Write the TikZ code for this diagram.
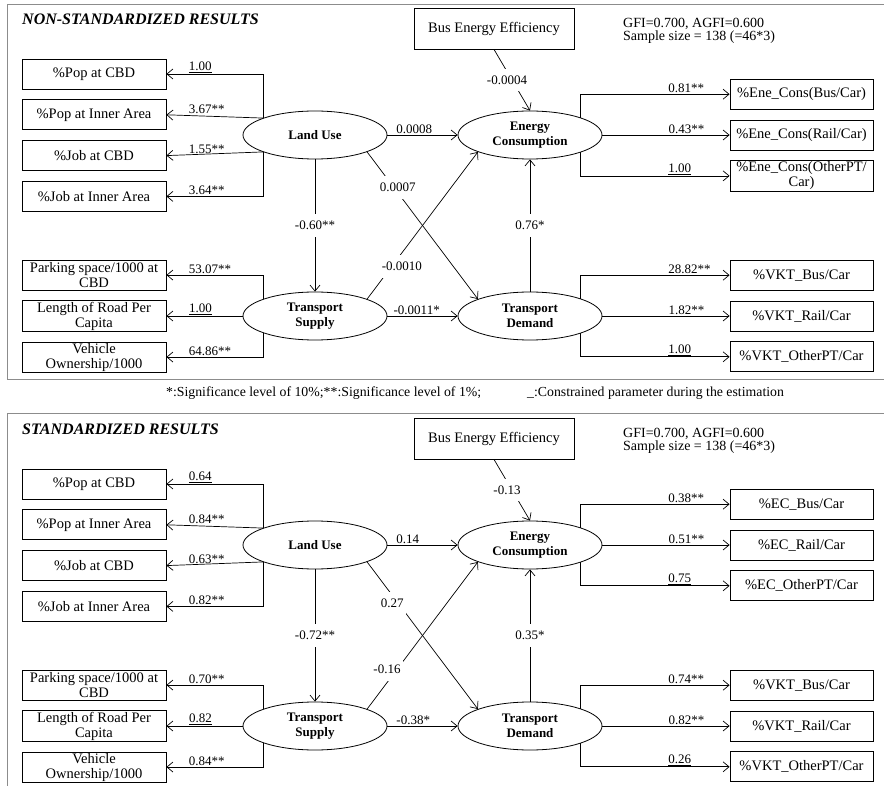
\documentclass[tikz,border=0pt]{standalone}
\usepackage{fontspec}
\setmainfont{Liberation Serif}
\usepackage{tikz}
\usetikzlibrary{arrows.meta,positioning,shapes.geometric}
\definecolor{ink}{HTML}{000000}
\definecolor{rule}{HTML}{8C8C8C}
\tikzset{
  obs/.style={draw=ink, rectangle, minimum width=144pt, minimum height=30pt, inner sep=1pt,
              font=\fontsize{14.5}{15}\selectfont, align=center, text=ink, line width=0.8pt},
  lat/.style={draw=ink, ellipse, minimum width=144pt, minimum height=48pt, inner sep=0pt,
              font=\fontsize{13}{15}\selectfont\bfseries, align=center, text=ink, line width=0.8pt},
  coef/.style={font=\fontsize{13}{14}\selectfont, inner sep=1pt, text=ink},
  gap/.style={coef, fill=white, inner xsep=2pt, inner ysep=7pt},
  ttl/.style={font=\fontsize{16}{18}\selectfont\bfseries\itshape, inner sep=0pt, text=ink},
  gof/.style={font=\fontsize{14}{13.5}\selectfont, align=left, inner sep=0pt, text=ink},
  note/.style={font=\fontsize{13.8}{15}\selectfont, inner sep=0pt, text=ink},
  frm/.style={draw=rule, line width=0.9pt},
  arr/.style={-{Straight Barb[length=6pt,width=10pt]}, line width=0.7pt, draw=ink},
}

\begin{document}
\begin{tikzpicture}[x=1pt, y=-1pt]
  \useasboundingbox (0,0) rectangle (884,786);
  % non-standardized
  \draw[frm] (884,4) -- (7,4) -- (7,379) -- (884,379);
  \node[ttl, anchor=west] (nTitle) at (22,19) {NON-STANDARDIZED RESULTS};
  \node[obs, minimum width=160pt, minimum height=41pt] (nBEE) at (494,28.5) {Bus Energy Efficiency};
  \node[gof, anchor=west] (nGof) at (623,31) {GFI=0.700, AGFI=0.600\\Sample size = 138 (=46*3)};
  \node[lat] (nLU) at (315,135) {Land Use};
  \node[lat] (nTS) at (315,316) {Transport\\Supply};
  \node[lat] (nEC) at (530,135) {Energy\\Consumption};
  \node[lat] (nTD) at (530,316) {Transport\\Demand};
  \node[obs] (nPopCBD) at (94,74) {\%Pop at CBD};
  \node[obs, below=10pt of nPopCBD] (nPopInn) {\%Pop at Inner Area};
  \node[obs, below=10pt of nPopInn] (nJobCBD) {\%Job at CBD};
  \node[obs, below=10pt of nJobCBD] (nJobInn) {\%Job at Inner Area};
  \node[obs] (nRoad) at (94,316) {Length of Road Per\\Capita};
  \node[obs, above=10pt of nRoad] (nPark) {Parking space/1000 at\\CBD};
  \node[obs, below=10pt of nRoad] (nVeh) {Vehicle\\Ownership/1000};
  \node[obs, minimum width=143pt] (nEcRail) at (801.5,135) {\%Ene\_Cons(Rail/Car)};
  \node[obs, minimum width=143pt, above=10pt of nEcRail] (nEcBus) {\%Ene\_Cons(Bus/Car)};
  \node[obs, minimum width=143pt, below=10pt of nEcRail] (nEcOth) {\%Ene\_Cons(OtherPT/\\Car)};
  \node[obs, minimum width=143pt] (nVkRail) at (801.5,316) {\%VKT\_Rail/Car};
  \node[obs, minimum width=143pt, above=10pt of nVkRail] (nVkBus) {\%VKT\_Bus/Car};
  \node[obs, minimum width=143pt, below=10pt of nVkRail] (nVkOth) {\%VKT\_OtherPT/Car};
  \draw[arr] (nLU.162) |- node[coef, anchor=south west, pos=0.89] {\underline{1.00}} (nPopCBD.east);
  \draw[arr] (nLU.162) -- node[coef, anchor=south west, pos=0.78] {3.67**} (nPopInn.east);
  \draw[arr] (nLU.198) -- node[coef, anchor=south west, pos=0.78] {1.55**} (nJobCBD.east);
  \draw[arr] (nLU.198) |- node[coef, anchor=south west, pos=0.89] {3.64**} (nJobInn.east);
  \draw[arr] (nTS.162) |- node[coef, anchor=south west, pos=0.89] {53.07**} (nPark.east);
  \draw[arr] (nTS.west) -- node[coef, anchor=south west, pos=0.72] {\underline{1.00}} (nRoad.east);
  \draw[arr] (nTS.198) |- node[coef, anchor=south west, pos=0.89] {64.86**} (nVeh.east);
  \draw[arr] (nEC.19) |- node[coef, anchor=south west, pos=0.79] {0.81**} (nEcBus.west);
  \draw[arr] (nEC.east) -- node[coef, anchor=south west, pos=0.51] {0.43**} (nEcRail.west);
  \draw[arr] (nEC.-19) |- node[coef, anchor=south west, pos=0.79] {\underline{1.00}} (nEcOth.west);
  \draw[arr] (nTD.19) |- node[coef, anchor=south west, pos=0.79] {28.82**} (nVkBus.west);
  \draw[arr] (nTD.east) -- node[coef, anchor=south west, pos=0.51] {1.82**} (nVkRail.west);
  \draw[arr] (nTD.-19) |- node[coef, anchor=south west, pos=0.79] {\underline{1.00}} (nVkOth.west);
  \draw[arr] (nLU.east) -- node[coef, anchor=south west, pos=0.11] {0.0008} (nEC.west);
  \draw[arr] (nTS.east) -- node[coef, anchor=south west, pos=0.07] {-0.0011*} (nTD.west);
  \draw[arr] (nLU.south) -- node[gap, pos=0.5] {-0.60**} (nTS.north);
  \draw[arr] (nTD.north) -- node[gap, pos=0.5] {0.76*} (nEC.south);
  \draw[arr] (nLU.-18) -- node[gap, pos=0.24, xshift=4pt] {0.0007} (nTD.162);
  \draw[arr] (nTS.18) -- node[gap, pos=0.224, xshift=10pt] {-0.0010} (nEC.-162);
  \draw[arr] (nBEE.south) -- node[gap, pos=0.5, xshift=-5pt] {-0.0004} (nEC.north);
  \node[note, anchor=west] (fnote) at (166,393) {*:Significance level of 10\%;**:Significance level of 1\%;\hspace{46pt}\_:Constrained parameter during the estimation};
  % standardized
  \begin{scope}[shift={(0,410)}]
  \draw[frm] (884,3) -- (7,3) -- (7,376);
  \node[ttl, anchor=west] (sTitle) at (22,19) {STANDARDIZED RESULTS};
  \node[obs, minimum width=160pt, minimum height=41pt] (sBEE) at (494,28.5) {Bus Energy Efficiency};
  \node[gof, anchor=west] (sGof) at (623,31) {GFI=0.700, AGFI=0.600\\Sample size = 138 (=46*3)};
  \node[lat] (sLU) at (315,135) {Land Use};
  \node[lat] (sTS) at (315,316) {Transport\\Supply};
  \node[lat] (sEC) at (530,135) {Energy\\Consumption};
  \node[lat] (sTD) at (530,316) {Transport\\Demand};
  \node[obs] (sPopCBD) at (94,74) {\%Pop at CBD};
  \node[obs, below=10pt of sPopCBD] (sPopInn) {\%Pop at Inner Area};
  \node[obs, below=10pt of sPopInn] (sJobCBD) {\%Job at CBD};
  \node[obs, below=10pt of sJobCBD] (sJobInn) {\%Job at Inner Area};
  \node[obs] (sRoad) at (94,316) {Length of Road Per\\Capita};
  \node[obs, above=10pt of sRoad] (sPark) {Parking space/1000 at\\CBD};
  \node[obs, below=10pt of sRoad] (sVeh) {Vehicle\\Ownership/1000};
  \node[obs, minimum width=143pt] (sEcRail) at (801.5,135) {\%EC\_Rail/Car};
  \node[obs, minimum width=143pt, above=10pt of sEcRail] (sEcBus) {\%EC\_Bus/Car};
  \node[obs, minimum width=143pt, below=10pt of sEcRail] (sEcOth) {\%EC\_OtherPT/Car};
  \node[obs, minimum width=143pt] (sVkRail) at (801.5,316) {\%VKT\_Rail/Car};
  \node[obs, minimum width=143pt, above=10pt of sVkRail] (sVkBus) {\%VKT\_Bus/Car};
  \node[obs, minimum width=143pt, below=10pt of sVkRail] (sVkOth) {\%VKT\_OtherPT/Car};
  \draw[arr] (sLU.162) |- node[coef, anchor=south west, pos=0.89] {\underline{0.64}} (sPopCBD.east);
  \draw[arr] (sLU.162) -- node[coef, anchor=south west, pos=0.78] {0.84**} (sPopInn.east);
  \draw[arr] (sLU.198) -- node[coef, anchor=south west, pos=0.78] {0.63**} (sJobCBD.east);
  \draw[arr] (sLU.198) |- node[coef, anchor=south west, pos=0.89] {0.82**} (sJobInn.east);
  \draw[arr] (sTS.162) |- node[coef, anchor=south west, pos=0.89] {0.70**} (sPark.east);
  \draw[arr] (sTS.west) -- node[coef, anchor=south west, pos=0.72] {\underline{0.82}} (sRoad.east);
  \draw[arr] (sTS.198) |- node[coef, anchor=south west, pos=0.89] {0.84**} (sVeh.east);
  \draw[arr] (sEC.19) |- node[coef, anchor=south west, pos=0.79] {0.38**} (sEcBus.west);
  \draw[arr] (sEC.east) -- node[coef, anchor=south west, pos=0.51] {0.51**} (sEcRail.west);
  \draw[arr] (sEC.-19) |- node[coef, anchor=south west, pos=0.79] {\underline{0.75}} (sEcOth.west);
  \draw[arr] (sTD.19) |- node[coef, anchor=south west, pos=0.79] {0.74**} (sVkBus.west);
  \draw[arr] (sTD.east) -- node[coef, anchor=south west, pos=0.51] {0.82**} (sVkRail.west);
  \draw[arr] (sTD.-19) |- node[coef, anchor=south west, pos=0.79] {\underline{0.26}} (sVkOth.west);
  \draw[arr] (sLU.east) -- node[coef, anchor=south west, pos=0.11] {0.14} (sEC.west);
  \draw[arr] (sTS.east) -- node[coef, anchor=south west, pos=0.11] {-0.38*} (sTD.west);
  \draw[arr] (sLU.south) -- node[gap, pos=0.5] {-0.72**} (sTS.north);
  \draw[arr] (sTD.north) -- node[gap, pos=0.5] {0.35*} (sEC.south);
  \draw[arr] (sLU.-18) -- node[gap, pos=0.28, xshift=-6pt] {0.27} (sTD.162);
  \draw[arr] (sTS.18) -- node[gap, pos=0.27, xshift=-10pt] {-0.16} (sEC.-162);
  \draw[arr] (sBEE.south) -- node[gap, pos=0.5, xshift=-5pt] {-0.13} (sEC.north);
  \end{scope}
\end{tikzpicture}
\end{document}
